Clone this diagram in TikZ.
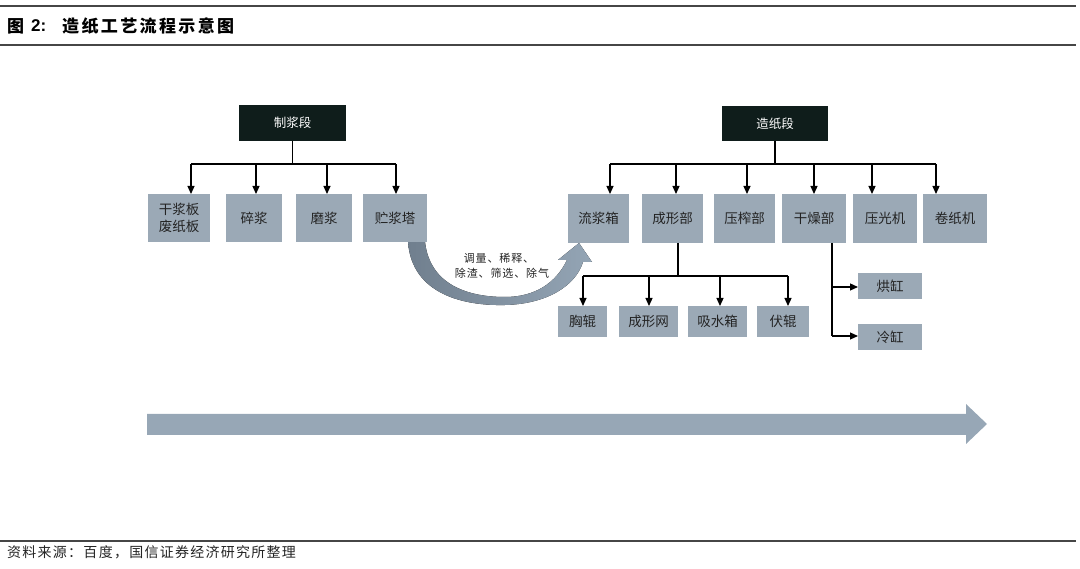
\documentclass[tikz,border=0pt]{standalone}
\usepackage{fontspec}
\setmainfont{Noto Sans CJK SC}
\newfontfamily\latfont{Liberation Sans}
\usetikzlibrary{arrows.meta,calc}
\definecolor{boxfill}{RGB}{155,169,182}
\definecolor{hdrfill}{RGB}{15,29,27}
\definecolor{bigarrow}{RGB}{151,167,182}
\definecolor{rulecol}{RGB}{70,70,70}
\definecolor{txtcol}{RGB}{35,35,35}
\newcommand\boxfont{\fontsize{13.5}{17}\selectfont}
\newcommand\hdrfont{\fontsize{12.5}{15}\selectfont}
\newcommand\lblfont{\fontsize{11}{15}\selectfont\addfontfeature{LetterSpace=8}}
\tikzset{
  boxnode/.style={fill=boxfill, draw=none, inner sep=0pt, outer sep=0pt, font=\boxfont, text=txtcol, align=center, anchor=north west},
  hdrnode/.style={fill=hdrfill, draw=none, inner sep=0pt, outer sep=0pt, font=\hdrfont, text=white, align=center, anchor=north west},
  conn/.style={line width=1.2pt, black},
  arr/.style={conn, -{Triangle[width=7pt,length=8pt]}},
  rulel/.style={line width=1.4pt, rulecol}
}
\begin{document}
\begin{tikzpicture}[x=1pt,y=-1pt]
\useasboundingbox (0,0) rectangle (1080,569);
% rules
\coordinate (r1a) at (0,6); \coordinate (r1b) at (1076,6);
\coordinate (r2a) at (0,45); \coordinate (r2b) at (1076,45);
\coordinate (r3a) at (0,541); \coordinate (r3b) at (1076,541);
\draw[rulel] (r1a) -- (r1b);
\draw[rulel] (r2a) -- (r2b);
\draw[rulel] (r3a) -- (r3b);
% title
\node[anchor=west, inner sep=0pt, font=\fontsize{17}{20}\selectfont\bfseries] (tfig) at (7,26) {图};
\node[anchor=west, inner sep=0pt, font=\latfont\fontsize{17}{20}\selectfont\bfseries] (tnum) at (31,26) {2:};
\node[anchor=west, inner sep=0pt, font=\fontsize{17}{20}\selectfont\bfseries\addfontfeature{LetterSpace=14}] (title) at (62,26) {造纸工艺流程示意图};
% source
\node[anchor=west, inner sep=0pt, font=\fontsize{14}{16}\selectfont\addfontfeature{LetterSpace=9}, text=txtcol] (src) at (7,552) {资料来源：百度，国信证券经济研究所整理};

% curved arrow
\fill[left color={rgb,255:red,112;green,127;blue,142}, middle color={rgb,255:red,215;green,221;blue,227}, right color={rgb,255:red,148;green,165;blue,181}]
  (408,242) .. controls (412,295) and (465,306) .. (505,305)
  .. controls (548,304) and (576,285) .. (583,262)
  -- (592,262) -- (579,243) -- (558,260) -- (567,260)
  .. controls (556,283) and (535,297) .. (505,297)
  .. controls (468,297) and (430,285) .. (425,242) -- cycle;
\node[inner sep=0pt, font=\lblfont, text=txtcol] (lb1) at (499,258) {调量、稀释、};
\node[inner sep=0pt, font=\lblfont, text=txtcol] (lb2) at (502,273) {除渣、筛选、除气};

% big arrow
\fill[bigarrow] (147,414) -- (966,414) -- (966,404) -- (987,424) -- (966,444) -- (966,435) -- (147,435) -- cycle;

% left section
\node[hdrnode, minimum width=107pt, minimum height=36pt] (hA) at (239,105) {制浆段};
\node[boxnode, minimum width=62pt, minimum height=48pt] (p1) at (148,194) {干浆板\\废纸板};
\node[boxnode, minimum width=56pt, minimum height=48pt] (p2) at (226,194) {碎浆};
\node[boxnode, minimum width=56pt, minimum height=48pt] (p3) at (296,194) {磨浆};
\node[boxnode, minimum width=64pt, minimum height=48pt] (p4) at (363,194) {贮浆塔};
\coordinate (bA1) at (191,164);
\coordinate (bA2) at (256,164);
\coordinate (bA3) at (327,164);
\coordinate (bA4) at (396,164);
\draw[conn] (hA.south) -- (hA.south |- bA1);
\draw[conn] (bA1) -- (bA4);
\draw[arr] (bA1) -- (bA1 |- p1.north);
\draw[arr] (bA2) -- (bA2 |- p2.north);
\draw[arr] (bA3) -- (bA3 |- p3.north);
\draw[arr] (bA4) -- (bA4 |- p4.north);

% right section
\node[hdrnode, minimum width=106pt, minimum height=35pt] (hB) at (722,106) {造纸段};
\node[boxnode, minimum width=61pt, minimum height=49pt] (q1) at (568,194) {流浆箱};
\node[boxnode, minimum width=61pt, minimum height=49pt] (q2) at (642,194) {成形部};
\node[boxnode, minimum width=61pt, minimum height=49pt] (q3) at (714,194) {压榨部};
\node[boxnode, minimum width=64pt, minimum height=49pt] (q4) at (782,194) {干燥部};
\node[boxnode, minimum width=64pt, minimum height=49pt] (q5) at (853,194) {压光机};
\node[boxnode, minimum width=64pt, minimum height=49pt] (q6) at (923,194) {卷纸机};
\coordinate (bB1) at (610,164);
\coordinate (bB2) at (676,164);
\coordinate (bB3) at (747,164);
\coordinate (bB4) at (814,164);
\coordinate (bB5) at (872,164);
\coordinate (bB6) at (936,164);
\draw[conn] (hB.south) -- (hB.south |- bB1);
\draw[conn] (bB1) -- (bB6);
\draw[arr] (bB1) -- (bB1 |- q1.north);
\draw[arr] (bB2) -- (bB2 |- q2.north);
\draw[arr] (bB3) -- (bB3 |- q3.north);
\draw[arr] (bB4) -- (bB4 |- q4.north);
\draw[arr] (bB5) -- (bB5 |- q5.north);
\draw[arr] (bB6) -- (bB6 |- q6.north);

% forming sub-parts
\node[boxnode, minimum width=49pt, minimum height=31pt] (s1) at (558,306) {胸辊};
\node[boxnode, minimum width=59pt, minimum height=31pt] (s2) at (619,306) {成形网};
\node[boxnode, minimum width=59pt, minimum height=31pt] (s3) at (688,306) {吸水箱};
\node[boxnode, minimum width=52pt, minimum height=31pt] (s4) at (757,306) {伏辊};
\coordinate (fJ) at (678,276);
\coordinate (bC1) at (583,276);
\coordinate (bC2) at (649,276);
\coordinate (bC3) at (720,276);
\coordinate (bC4) at (788,276);
\draw[conn] (fJ |- q2.south) -- (fJ);
\draw[conn] (bC1) -- (bC4);
\draw[arr] (bC1) -- (bC1 |- s1.north);
\draw[arr] (bC2) -- (bC2 |- s2.north);
\draw[arr] (bC3) -- (bC3 |- s3.north);
\draw[arr] (bC4) -- (bC4 |- s4.north);

% drying sub-parts
\node[boxnode, minimum width=64pt, minimum height=26pt] (d1) at (858,273) {烘缸};
\node[boxnode, minimum width=64pt, minimum height=26pt] (d2) at (858,324) {冷缸};
\coordinate (dJ1) at (832,287);
\coordinate (dJ2) at (832,336);
\draw[conn] (dJ2 |- q4.south) -- (dJ2);
\draw[arr] (dJ1) -- (dJ1 -| d1.west);
\draw[arr] (dJ2) -- (dJ2 -| d2.west);
\end{tikzpicture}
\end{document}
